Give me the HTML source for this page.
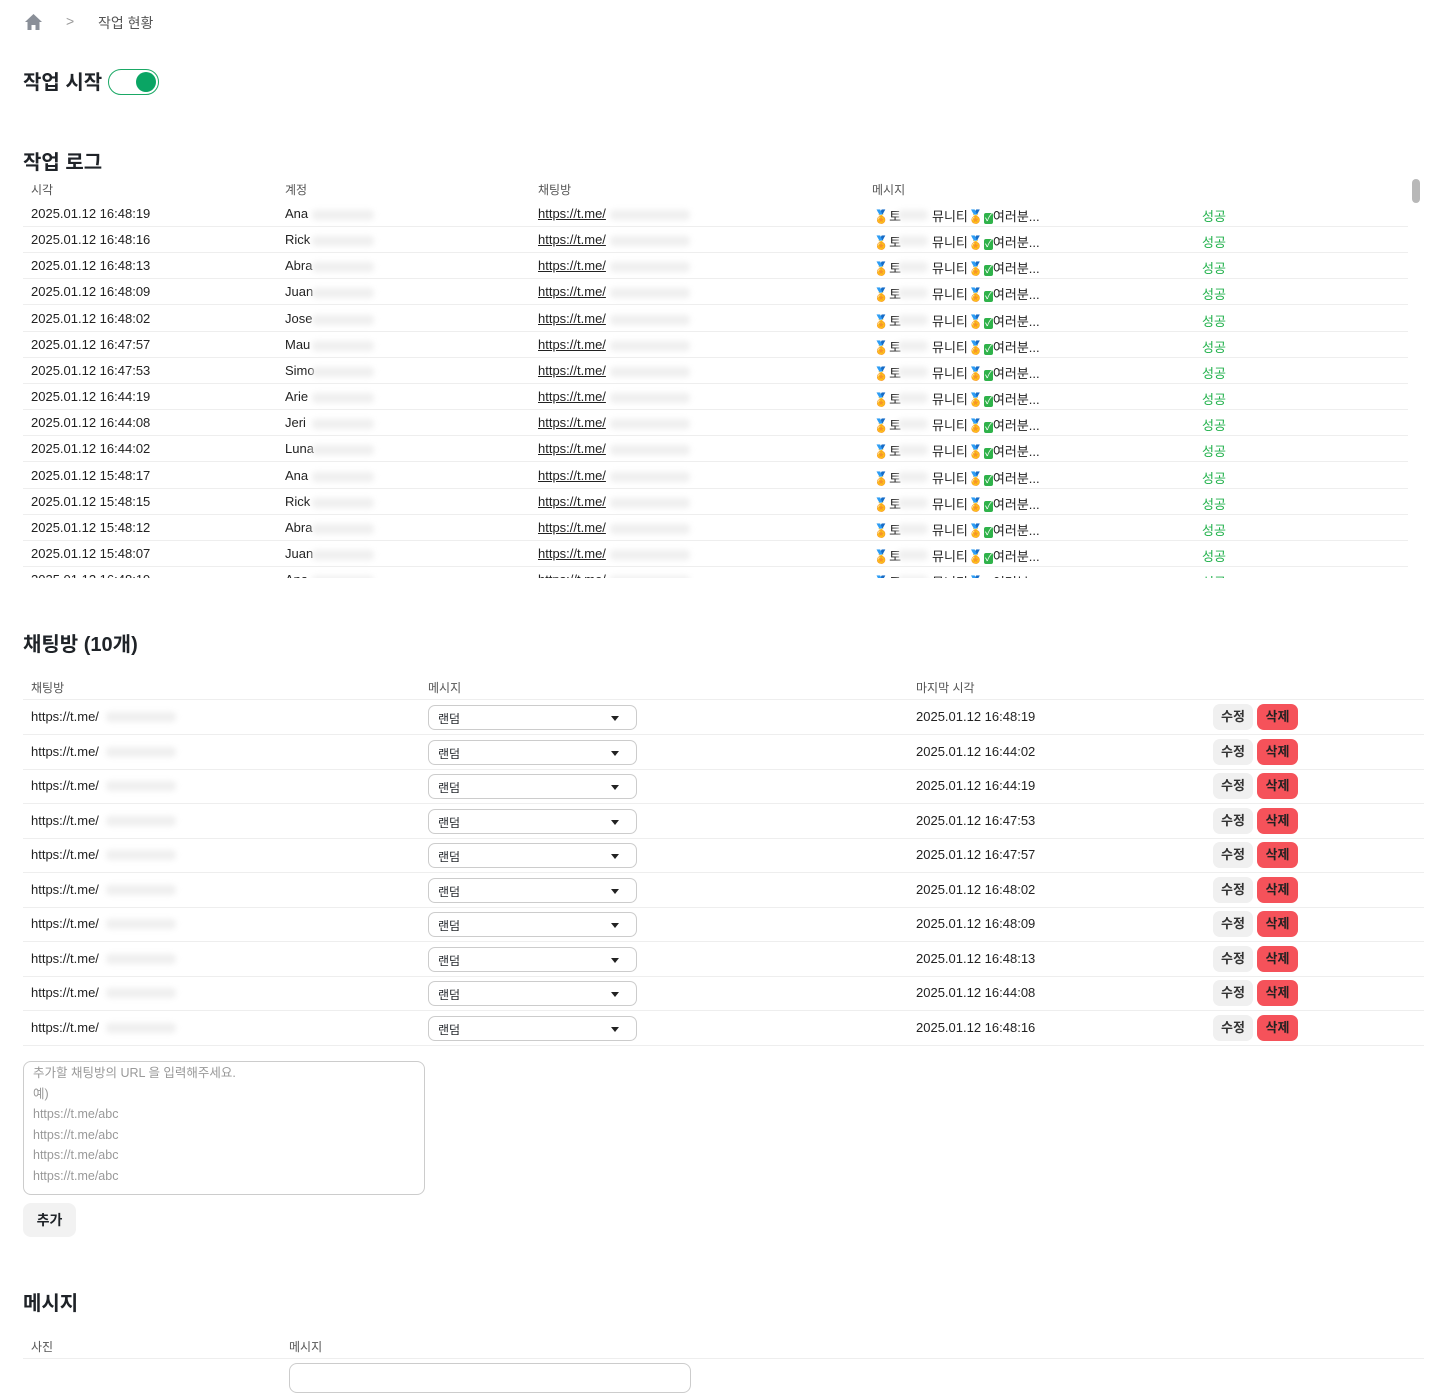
<!DOCTYPE html>
<html><head><meta charset="utf-8">
<style>
*{margin:0;padding:0;box-sizing:border-box}
body{width:1447px;height:1376px;overflow:hidden;background:#fff;font-family:"Liberation Sans","Noto Sans CJK KR",sans-serif;color:#1f2328;position:relative}
.a{position:absolute;white-space:nowrap}
h2{position:absolute;font-size:20px;font-weight:700;color:#1f2328;left:23px}
.th{font-size:12px;color:#555}
.td{font-size:13px;color:#222}
.line{position:absolute;height:1px;background:#eee}
.blur{position:absolute;height:10px;background:#efefef;filter:blur(3px);border-radius:4px}
.green{color:#22b14c}
.sel{position:absolute;left:428px;width:209px;height:25px;border:1px solid #ccc;border-radius:7px;font-size:12px;padding:4px 9px}
.sel:after{content:"";position:absolute;right:17px;top:10px;border-left:4px solid transparent;border-right:4px solid transparent;border-top:5px solid #222}
.b1,.b2{position:absolute;height:26px;border-radius:7px;font-size:13px;font-weight:700;text-align:center;line-height:26px}
.b1{left:1213px;width:40px;background:#f0f0f0;color:#333}
.b2{left:1257px;width:41px;background:#f5525a;color:#222}
</style></head><body>
<svg class="a" style="left:24px;top:13px" width="19" height="18" viewBox="0 0 19 18"><path d="M9.5 1 L1 9 H3.5 V17 H7.5 V12 H11.5 V17 H15.5 V9 H18 Z" fill="#8a8f98"/></svg>
<div class="a" style="left:66px;top:13px;font-size:14px;color:#999">&gt;</div>
<div class="a" style="left:98px;top:13px;font-size:14px;color:#555">작업 현황</div>
<h2 style="top:66px">작업 시작</h2>
<div class="a" style="left:108px;top:69px;width:51px;height:26px;border:1.5px solid #1aa865;border-radius:13px"></div>
<div class="a" style="left:136px;top:72px;width:20px;height:20px;border-radius:50%;background:#0aa564"></div>
<h2 style="top:146px">작업 로그</h2>
<div class="a th" style="left:31px;top:181px">시각</div>
<div class="a th" style="left:285px;top:181px">계정</div>
<div class="a th" style="left:538px;top:181px">채팅방</div>
<div class="a th" style="left:872px;top:181px">메시지</div>
<div class="a" style="left:1412px;top:179px;width:8px;height:24px;border-radius:4px;background:#b8b8b8"></div>
<div id="log" class="a" style="left:0;top:200px;width:1447px;height:378px;overflow:hidden"></div>
<h2 style="top:628px">채팅방 (10개)</h2>
<div class="a th" style="left:31px;top:679px">채팅방</div>
<div class="a th" style="left:428px;top:679px">메시지</div>
<div class="a th" style="left:916px;top:679px">마지막 시각</div>
<div class="line" style="left:23px;top:699px;width:1401px"></div>
<div id="chat"></div>
<div class="a" style="left:23px;top:1061px;width:402px;height:134px;border:1px solid #ccc;border-radius:8px;padding:1px 9px;font-size:12.5px;color:#999;line-height:20.5px;white-space:normal">추가할 채팅방의 URL 을 입력해주세요.<br>예)<br>https://t.me/abc<br>https://t.me/abc<br>https://t.me/abc<br>https://t.me/abc</div>
<div class="a" style="left:23px;top:1203px;width:53px;height:34px;border-radius:8px;background:#f2f2f2;font-size:14px;font-weight:700;text-align:center;line-height:34px">추가</div>
<h2 style="top:1287px">메시지</h2>
<div class="a th" style="left:31px;top:1338px">사진</div>
<div class="a th" style="left:289px;top:1338px">메시지</div>
<div class="line" style="left:23px;top:1358px;width:1401px"></div>
<div class="a" style="left:289px;top:1363px;width:402px;height:30px;border:1px solid #ccc;border-radius:8px"></div>
<script>
var t=["16:48:19","16:48:16","16:48:13","16:48:09","16:48:02","16:47:57","16:47:53","16:44:19","16:44:08","16:44:02","15:48:17","15:48:15","15:48:12","15:48:07","16:48:19"];
var n=["Ana","Rick","Abra","Juan","Jose","Mau","Simo","Arie","Jeri","Luna","Ana","Rick","Abra","Juan","Ana"];
var h="";
for(var i=0;i<15;i++){var y=i*26.15;
h+='<div class="a td" style="left:31px;top:'+(y+6)+'px">2025.01.12 '+t[i]+'</div>';
h+='<div class="a td" style="left:285px;top:'+(y+6)+'px">'+n[i]+'</div><div class="blur" style="left:312px;top:'+(y+10)+'px;width:62px"></div>';
h+='<div class="a td" style="left:538px;top:'+(y+6)+'px;text-decoration:underline">https://t.me/</div><div class="blur" style="left:610px;top:'+(y+10)+'px;width:80px"></div>';
h+='<div class="a td" style="left:873px;top:'+(y+6)+'px">🏅토</div><div class="blur" style="left:898px;top:'+(y+10)+'px;width:30px"></div><div class="a td" style="left:932px;top:'+(y+6)+'px">뮤니티🏅<span style="background:#2fb24a;color:#fff;border-radius:2px;font-size:10px;padding:0 1px">✓</span>여러분...</div>';
h+='<div class="a green" style="left:1202px;top:'+(y+6)+'px;font-size:13px">성공</div>';
h+='<div class="line" style="left:23px;top:'+(y+26)+'px;width:1385px"></div>';}
document.getElementById('log').innerHTML=h;
var c=["16:48:19","16:44:02","16:44:19","16:47:53","16:47:57","16:48:02","16:48:09","16:48:13","16:44:08","16:48:16"];
h="";
for(var i=0;i<10;i++){var y=717+i*34.5;
h+='<div class="a td" style="left:31px;top:'+(y-8)+'px">https://t.me/</div><div class="blur" style="left:106px;top:'+(y-5)+'px;width:70px"></div>';
h+='<div class="sel" style="top:'+(y-12)+'px">랜덤</div>';
h+='<div class="a td" style="left:916px;top:'+(y-8)+'px">2025.01.12 '+c[i]+'</div>';
h+='<div class="b1" style="top:'+(y-13)+'px">수정</div><div class="b2" style="top:'+(y-13)+'px">삭제</div>';
h+='<div class="line" style="left:23px;top:'+(y+17)+'px;width:1401px"></div>';}
document.getElementById('chat').innerHTML=h;
</script>
</body></html>
